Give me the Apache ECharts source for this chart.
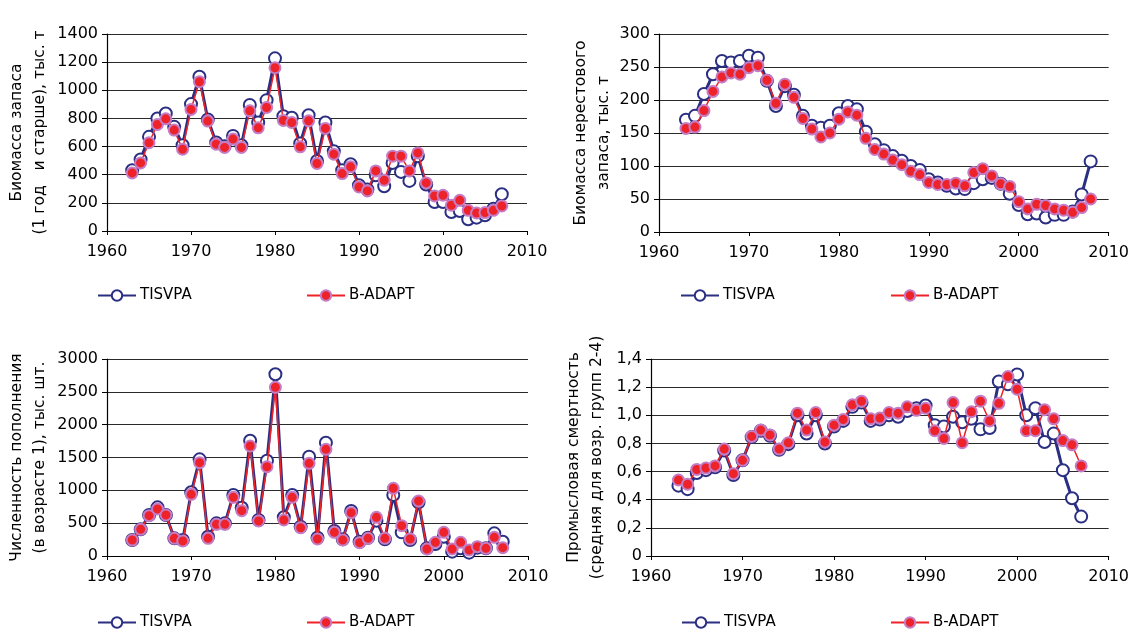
<!DOCTYPE html>
<html>
<head>
<meta charset="utf-8">
<script src="https://cdn.jsdelivr.net/npm/echarts@6/dist/echarts.min.js"></script>
<style>
  html, body { margin: 0; padding: 0; background: #fff; }
  #chart { width: 1132px; height: 633px; }
</style>
</head>
<body>
<div id="chart"></div>
<script>
// Biomass of the stock (age 1+), thousand t
const years1Start = 1963;
const biomassTISVPA = [432, 508, 669, 800, 835, 740, 610, 902, 1096, 793, 629, 603, 676, 610, 895, 771, 930, 1227, 815,
  805, 622, 823, 498, 771, 567, 432, 475, 325, 295, 396, 318, 484, 420, 356, 532, 330, 206, 206, 135, 142, 83, 95, 112, 159, 261];
const biomassBADAPT = [413, 484, 627, 757, 797, 717, 581, 864, 1061, 781, 617, 594, 653, 594, 854, 733, 878, 1160, 786,
  771, 598, 783, 480, 729, 546, 408, 456, 313, 285, 427, 361, 532, 532, 427, 555, 342, 249, 254, 183, 218, 147, 128, 131, 147, 178];

// Spawning stock biomass, thousand t
const years2Start = 1963;
const ssbTISVPA = [170, 176, 209, 239, 259, 257, 259, 267, 264, 229, 191, 221, 208, 176, 161, 158, 161, 180, 191, 186,
  152, 133, 124, 115, 108, 100, 94, 80, 75, 70, 66, 65, 74, 80, 82, 73, 58, 41, 27, 28, 22, 26, 26, 31, 57, 107];
const ssbBADAPT = [157, 159, 184, 213, 235, 241, 239, 249, 252, 230, 195, 224, 204, 172, 156, 144, 150, 171, 182, 177,
  142, 125, 118, 109, 102, 92, 87, 75, 72, 72, 74, 70, 90, 96, 85, 73, 69, 46, 35, 42, 40, 35, 33, 30, 37, 50];

// Recruitment (age 1), thousand fish
const years3Start = 1963;
const recTISVPA = [244, 406, 624, 741, 624, 269, 244, 970, 1472, 294, 497, 497, 929, 736, 1756, 548, 1451, 2767, 589,
  929, 446, 1512, 279, 1725, 380, 254, 685, 218, 279, 538, 254, 929, 360, 244, 818, 117, 183, 294, 66, 117, 51, 127, 117, 345, 218];
const recBADAPT = [243, 406, 614, 716, 624, 269, 228, 939, 1421, 269, 482, 482, 893, 690, 1675, 533, 1360, 2569, 548,
  893, 431, 1411, 259, 1624, 360, 244, 660, 203, 269, 589, 269, 1031, 462, 259, 838, 107, 208, 360, 107, 208, 91, 142, 117, 284, 127];

// Fishing mortality (mean over age groups 2-4)
const years4Start = 1963;
const fTISVPA = [0.50, 0.475, 0.59, 0.61, 0.63, 0.75, 0.575, 0.68, 0.845, 0.89, 0.855, 0.755, 0.795, 1.00, 0.87, 1.00,
  0.80, 0.92, 0.96, 1.06, 1.09, 0.96, 0.97, 1.00, 0.99, 1.03, 1.05, 1.07, 0.93, 0.92, 0.99, 0.95, 0.975, 0.90, 0.91,
  1.24, 1.22, 1.29, 1.00, 1.05, 0.81, 0.87, 0.61, 0.41, 0.28];
const fBADAPT = [0.54, 0.51, 0.615, 0.625, 0.64, 0.76, 0.585, 0.68, 0.85, 0.895, 0.86, 0.76, 0.805, 1.015, 0.895, 1.02,
  0.81, 0.93, 0.97, 1.075, 1.10, 0.975, 0.98, 1.02, 1.015, 1.06, 1.035, 1.05, 0.89, 0.835, 1.09, 0.805, 1.025, 1.10, 0.96,
  1.085, 1.275, 1.185, 0.89, 0.89, 1.04, 0.975, 0.82, 0.79, 0.64];

const seriesNames = ['TISVPA', 'B-ADAPT'];
const xTicks = [1960, 1970, 1980, 1990, 2000, 2010];

function pairs(start, values) {
  return values.map((v, i) => [start + i, v]);
}

const NAVY = '#2b2f82';
const RED = '#ee2229';
const FONT = 'DejaVu Sans';

const grids = [
  { left: 107, top: 34, width: 420, height: 197 },
  { left: 659, top: 34, width: 453, height: 198 },
  { left: 107, top: 359, width: 421, height: 197 },
  { left: 651, top: 359, width: 462, height: 197 }
];

const yDefs = [
  { min: 0, max: 1400, interval: 200, name: 'Биомасса запаса\n(1 год   и старше), тыс. т', gap: 56, fmt: v => String(v) },
  { min: 0, max: 300, interval: 50, name: 'Биомасса нерестового\nзапаса, тыс. т', gap: 43, fmt: v => String(v) },
  { min: 0, max: 3000, interval: 500, name: 'Численность пополнения\n(в возрасте 1), тыс. шт.', gap: 56, fmt: v => String(v) },
  { min: 0, max: 1.4, interval: 0.2, name: 'Промысловая смертность\n(средняя для возр. групп 2-4)', gap: 43,
    fmt: v => (Math.abs(v) < 1e-9 ? '0' : v.toFixed(1).replace('.', ',')) }
];

const xAxis = grids.map((g, i) => ({
  type: 'value', gridIndex: i, min: xTicks[0], max: xTicks[xTicks.length - 1], interval: 10,
  axisLine: { show: true, onZero: false, lineStyle: { color: '#000', width: 1.2 } },
  axisTick: { show: true, length: 4, lineStyle: { color: '#000' } },
  axisLabel: { color: '#000', fontSize: 16, fontFamily: FONT, margin: 13, formatter: v => String(v) },
  splitLine: { show: false }
}));

const yAxis = yDefs.map((d, i) => ({
  type: 'value', gridIndex: i, min: d.min, max: d.max, interval: d.interval,
  name: d.name, nameLocation: 'middle', nameRotate: 90, nameGap: d.gap,
  nameTextStyle: { color: '#000', fontSize: 15.5, fontFamily: FONT, lineHeight: 23, align: 'center' },
  axisLine: { show: true, lineStyle: { color: '#000', width: 1.2 } },
  axisTick: { show: true, length: 5, inside: false, lineStyle: { color: '#000' } },
  axisLabel: { color: '#000', fontSize: 16, fontFamily: FONT, margin: 9, formatter: d.fmt },
  splitLine: { show: true, lineStyle: { color: '#2a2a2a', width: 1 } }
}));

function tisvpa(i, start, vals) {
  return {
    name: 'TISVPA', type: 'line', xAxisIndex: i, yAxisIndex: i,
    data: pairs(start, vals),
    symbol: 'circle', symbolSize: 12,
    lineStyle: { color: NAVY, width: 3 },
    itemStyle: { color: '#fff', borderColor: NAVY, borderWidth: 2 },
    z: 2, animation: false
  };
}
function badapt(i, start, vals) {
  return {
    name: 'B-ADAPT', type: 'line', xAxisIndex: i, yAxisIndex: i,
    data: pairs(start, vals),
    symbol: 'circle', symbolSize: 11,
    lineStyle: { color: RED, width: 1.5 },
    itemStyle: { color: RED, borderColor: '#c47cc4', borderWidth: 2 },
    z: 3, animation: false
  };
}

const series = [
  tisvpa(0, years1Start, biomassTISVPA), badapt(0, years1Start, biomassBADAPT),
  tisvpa(1, years2Start, ssbTISVPA), badapt(1, years2Start, ssbBADAPT),
  tisvpa(2, years3Start, recTISVPA), badapt(2, years3Start, recBADAPT),
  tisvpa(3, years4Start, fTISVPA), badapt(3, years4Start, fBADAPT)
];

// One legend entry per position under each panel
const legendSpots = [
  [97, 288, 0], [306, 288, 1], [680, 288, 0], [890, 288, 1],
  [97, 615, 0], [306, 615, 1], [681, 615, 0], [890, 615, 1]
];
const legend = legendSpots.map(([x, y, k]) => ({
  left: x, top: y, orient: 'horizontal', padding: 0,
  data: [seriesNames[k]], itemWidth: 38, itemHeight: 13, itemGap: 4,
  selectedMode: false,
  textStyle: { color: '#000', fontSize: 15, fontFamily: FONT, padding: [0, 0, 0, -1] }
}));

const chart = echarts.init(document.getElementById('chart'), null, { renderer: 'canvas' });
chart.setOption({
  backgroundColor: '#fff',
  animation: false,
  grid: grids,
  xAxis: xAxis,
  yAxis: yAxis,
  legend: legend,
  series: series
});
</script>
</body>
</html>
